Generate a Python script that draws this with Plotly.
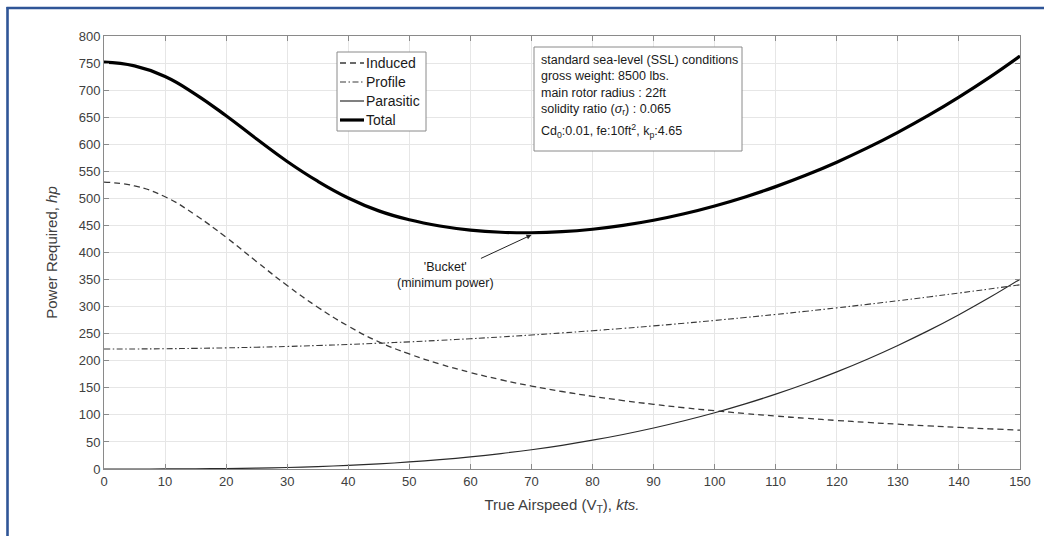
import plotly.graph_objects as go

# True airspeed, kts
airspeed = [0, 5, 10, 15, 20, 25, 30, 35, 40, 45, 50, 55, 60, 65, 70, 75,
            80, 85, 90, 95, 100, 105, 110, 115, 120, 125, 130, 135, 140, 145, 150]

# Power required components, hp
induced = [530.0, 523.0, 503.0, 469.0, 428.0, 383.0, 339.0, 299.0, 264.0, 235.0,
           212.5, 194.0, 178.3, 164.9, 153.3, 143.2, 134.3, 126.5, 119.5, 113.2,
           107.6, 102.5, 97.8, 93.6, 89.7, 86.1, 82.8, 79.7, 76.9, 74.2, 71.8]
profile = [221.7, 221.8, 222.2, 222.9, 223.8, 225.0, 226.4, 228.2, 230.1, 232.4,
           234.9, 237.7, 240.7, 244.0, 247.6, 251.4, 255.5, 259.8, 264.4, 269.3,
           274.5, 279.9, 285.6, 291.5, 297.7, 304.2, 310.9, 317.9, 325.1, 332.6, 340.4]
parasitic = [0.0, 0.0, 0.1, 0.4, 0.8, 1.6, 2.8, 4.5, 6.7, 9.5,
             13.0, 17.3, 22.4, 28.5, 35.6, 43.8, 53.2, 63.8, 75.7, 89.1,
             103.9, 120.3, 138.3, 158.0, 179.5, 202.9, 228.3, 255.6, 285.1, 316.7, 350.7]
total = [751.7, 744.8, 725.3, 692.3, 652.6, 609.6, 568.2, 531.7, 500.8, 476.9,
         460.4, 449.0, 441.4, 437.4, 436.5, 438.4, 443.0, 450.1, 459.6, 471.6,
         486.0, 502.7, 521.7, 543.1, 566.9, 593.2, 622.0, 653.2, 687.1, 723.5, 762.9]

series_names = ["Induced", "Profile", "Parasitic", "Total"]

x_ticks = list(range(0, 151, 10))
y_ticks = list(range(0, 801, 50))

bucket_speed = 70
bucket_power = 436.5

FONT = "Liberation Sans, Arial, Helvetica, sans-serif"
AXIS_GREY = "#8a8a8a"
TEXT_GREY = "#404040"
INK = "#1a1a1a"

# plot area in pixels: left 104, right 1020, top 36, bottom 469
PL, PR, PT, PB = 104, 1020, 36, 469


def px_x(px):
    return (px - PL) / (PR - PL)


def px_y(py):
    return (PB - py) / (PB - PT)


styles = [
    dict(color="#3a3a3a", width=1.3, dash="6px,4px"),
    dict(color="#3a3a3a", width=1.1, dash="6px,2.5px,1.5px,2.5px"),
    dict(color="#2a2a2a", width=1.2, dash="solid"),
    dict(color="#000000", width=3.2, dash="solid"),
]

fig = go.Figure()
for name, values, style in zip(series_names, [induced, profile, parasitic, total], styles):
    fig.add_trace(go.Scatter(x=airspeed, y=values, name=name, mode="lines",
                             showlegend=False,
                             line=dict(shape="spline", smoothing=1.3, **style)))

axis_common = dict(
    showline=True, linecolor=AXIS_GREY, linewidth=1, mirror="allticks",
    ticks="inside", ticklen=5, tickcolor=AXIS_GREY, tickwidth=1,
    showgrid=True, gridcolor="#e6e6e6", gridwidth=1, zeroline=False,
    tickfont=dict(family=FONT, size=13, color=TEXT_GREY),
)

fig.update_xaxes(range=[0, 150], tickvals=x_ticks,
                 title=dict(text="True Airspeed (V<sub>T</sub>), <i>kts.</i>",
                            font=dict(family=FONT, size=15, color=TEXT_GREY), standoff=11),
                 **axis_common)
fig.update_yaxes(range=[0, 800], tickvals=y_ticks,
                 title=dict(text="Power Required, <i>hp</i>",
                            font=dict(family=FONT, size=15, color=TEXT_GREY), standoff=17),
                 **axis_common)

# Legend box with line samples
fig.add_shape(type="rect", xref="paper", yref="paper",
              x0=px_x(337), x1=px_x(426), y0=px_y(131), y1=px_y(52),
              line=dict(color="#8a8a8a", width=1), fillcolor="white", layer="above")
legend_rows = [63, 82, 101, 120]
for name, style, row in zip(series_names, styles, legend_rows):
    fig.add_shape(type="line", xref="paper", yref="paper",
                  x0=px_x(340), x1=px_x(364), y0=px_y(row), y1=px_y(row),
                  line=dict(color=style["color"], width=style["width"], dash=style["dash"]),
                  layer="above")
    fig.add_annotation(xref="paper", yref="paper", x=px_x(364), y=px_y(row),
                       xanchor="left", yanchor="middle", showarrow=False, text=name,
                       font=dict(family=FONT, size=14, color=INK))

# Conditions box
fig.add_shape(type="rect", xref="paper", yref="paper",
              x0=px_x(534), x1=px_x(742), y0=px_y(151), y1=px_y(47),
              line=dict(color="#8a8a8a", width=1), fillcolor="white", layer="above")
conditions = ("standard sea-level (SSL) conditions<br>"
              "gross weight: 8500 lbs.<br>"
              "main rotor radius : 22ft<br>"
              "solidity ratio (<i>σ</i><sub>r</sub>) : 0.065")
fig.add_annotation(xref="paper", yref="paper", x=px_x(539), y=px_y(51),
                   xanchor="left", yanchor="top", align="left", showarrow=False,
                   text=conditions, font=dict(family=FONT, size=12.5, color=INK))
fig.add_annotation(xref="paper", yref="paper", x=px_x(539), y=px_y(131),
                   xanchor="left", yanchor="middle", align="left", showarrow=False,
                   text="Cd<sub>0</sub>:0.01, fe:10ft<sup>2</sup>, k<sub>p</sub>:4.65",
                   font=dict(family=FONT, size=12.5, color=INK))

# Minimum-power bucket callout
fig.add_annotation(x=bucket_speed, y=bucket_power - 4, xref="x", yref="y",
                   text="'Bucket'<br>(minimum power)", showarrow=True,
                   arrowhead=2, arrowsize=1, arrowwidth=1, arrowcolor="#222222",
                   ax=-86, ay=40, font=dict(family=FONT, size=12.5, color=INK),
                   align="center")

# Figure frame
frame = dict(type="line", xref="paper", yref="paper",
             line=dict(color="#2f5597", width=2.6))
fig.add_shape(x0=px_x(6.5), x1=px_x(1060), y0=px_y(8), y1=px_y(8), **frame)
fig.add_shape(x0=px_x(7.5), x1=px_x(7.5), y0=px_y(7), y1=px_y(560), **frame)

fig.update_layout(
    width=1044, height=536,
    margin=dict(l=PL, r=1044 - PR, t=PT, b=536 - PB),
    paper_bgcolor="white", plot_bgcolor="white",
    font=dict(family=FONT, color=TEXT_GREY),
    showlegend=False,
)

fig.write_html("out.html")
